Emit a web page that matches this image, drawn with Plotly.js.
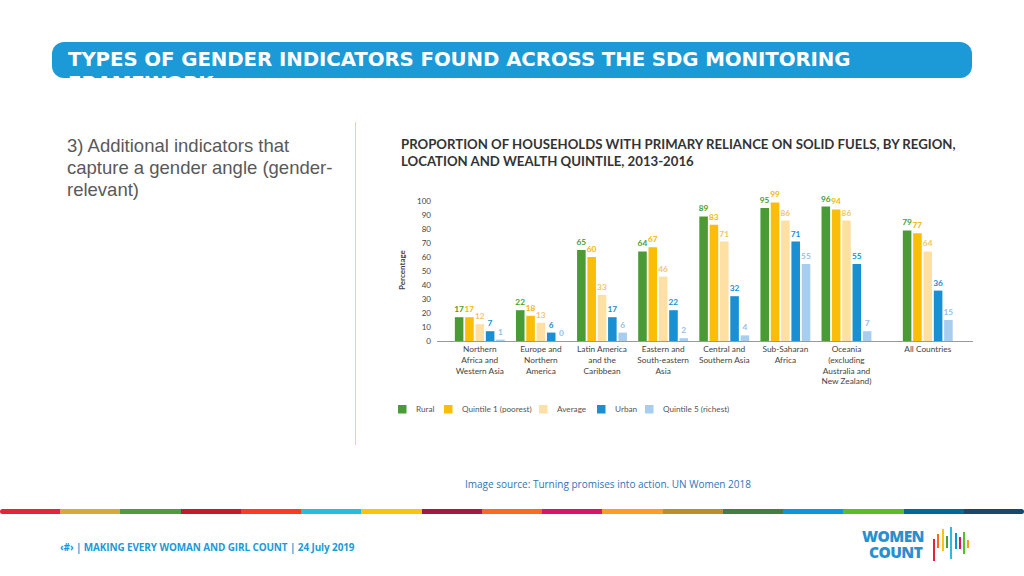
<!DOCTYPE html>
<html>
<head>
<meta charset="utf-8">
<script src="https://cdn.plot.ly/plotly-3.0.1.min.js"></script>
<style>
  html, body { margin:0; padding:0; background:#fff; width:1024px; height:576px; overflow:hidden; }
  #slide { position:relative; width:1024px; height:576px; font-family:"Open Sans", Lato, sans-serif; }
  #header { position:absolute; left:52px; top:42px; width:920px; height:36px; border-radius:12px; background:#1b9ad7; }
  #headerText { position:absolute; left:68px; top:48px; width:830px; color:#fff; font-family:"DejaVu Sans", sans-serif; font-weight:700; font-size:19.8px; line-height:24px; letter-spacing:-0.1px; }
  #leftText { position:absolute; left:67px; top:135px; width:282px; color:#595959; font-family:"Liberation Sans", Arial, sans-serif; font-size:18.5px; line-height:22px; }
  #divider { position:absolute; left:355px; top:122px; width:1px; height:323px; background:#b7dcef; }
  #source { position:absolute; left:465px; top:477px; color:#2e75b6; font-family:"Open Sans", sans-serif; font-size:10px; white-space:nowrap; }
  #strip { position:absolute; left:0; top:509px; width:1024px; height:5px; display:flex; border-radius:3px; overflow:hidden; }
  #strip div { flex:1; height:5px; }
  #footer { position:absolute; left:60px; top:540px; color:#1b9ad7; font-family:"Open Sans", sans-serif; font-weight:700; font-size:9.95px; white-space:nowrap; letter-spacing:-0.1px; }
  .logo { position:absolute; color:#2a8fcf; font-family:"Open Sans", sans-serif; font-weight:800; font-size:15.5px; line-height:14px; letter-spacing:-0.6px; white-space:nowrap; }
  #chart { position:absolute; left:0; top:0; width:1024px; height:576px; }
  .lb { position:absolute; width:2px; }
</style>
</head>
<body>
<div id="slide">
  <div id="header"></div>
  <div id="headerText">TYPES OF GENDER INDICATORS FOUND ACROSS THE SDG MONITORING FRAMEWORK</div>
  <div id="leftText">3) Additional indicators that capture a gender angle (gender-relevant)</div>
  <div id="divider"></div>
  <div id="source">Image source: Turning promises into action. UN Women 2018</div>
  <div id="strip"></div>
  <div id="footer">‹#› | MAKING EVERY WOMAN AND GIRL COUNT | 24 July 2019</div>
  <div class="logo" style="left:862px; top:529px;">WOMEN</div>
  <div class="logo" style="left:869px; top:545px;">COUNT</div>
  <div id="logoBars"></div>
  <div id="chart"></div>
</div>
<script>
// ---- data ----
const regions = [
  "Northern<br>Africa and<br>Western Asia",
  "Europe and<br>Northern<br>America",
  "Latin America<br>and the<br>Caribbean",
  "Eastern and<br>South-eastern<br>Asia",
  "Central and<br>Southern Asia",
  "Sub-Saharan<br>Africa",
  "Oceania<br>(excluding<br>Australia and<br>New Zealand)",
  "All Countries"
];
const seriesNames = ["Rural", "Quintile 1 (poorest)", "Average", "Urban", "Quintile 5 (richest)"];
const rural     = [17, 22, 65, 64, 89, 95, 96, 79];
const quintile1 = [17, 18, 60, 67, 83, 99, 94, 77];
const average   = [12, 13, 33, 46, 71, 86, 86, 64];
const urban     = [ 7,  6, 17, 22, 32, 71, 55, 36];
const quintile5 = [ 1,  0,  6,  2,  4, 55,  7, 15];
const yTicks = [0,10,20,30,40,50,60,70,80,90,100];

// ---- styles ----
const barColors  = ["#4a9b36", "#f9bd0a", "#fde0a2", "#1a8fd1", "#a7cdef"];
const textColors = ["#4a9b36", "#f5b800", "#f3c46a", "#1a8fd1", "#93c1ea"];
const legendPx   = [398, 444, 539, 597, 645];   // left pixel of each legend swatch
const sdgColors = ["#e5243b","#dda63a","#4c9f38","#c5192d","#ff3a21","#26bde2","#fcc30b","#a21942","#fd6925","#dd1367","#fd9d24","#bf8b2e","#3f7e44","#0a97d9","#56c02b","#00689d","#19486a"];

// plot area geometry (pixels)
const PL = 437, PR = 973, PT = 201, PB = 341;
const px2x = p => (p - PL) / (PR - PL);
const px2y = p => (PB - p) / (PB - PT);

// x positions: "All Countries" set slightly apart
const xPos = regions.map((r, i) => i === regions.length - 1 ? i + 0.33 : i);

const strip = document.getElementById('strip');
sdgColors.forEach(c => { const d = document.createElement('div'); d.style.background = c; strip.appendChild(d); });

// logo bars
const lbColors = ["#e5243b","#fd6925","#fcc30b","#4c9f38","#26bde2","#0a97d9","#dd1367","#56c02b","#fd9d24"];
const lbTop = [12, 7, 2, 9, 0, 6, 10, 5, 13];
const lbH   = [22, 14, 22, 12, 32, 16, 12, 22, 8];
const lb = document.getElementById('logoBars');
lbColors.forEach((c, i) => {
  const d = document.createElement('div'); d.className = 'lb';
  d.style.left = (933 + i * 4.3) + 'px'; d.style.top = (527 + lbTop[i]) + 'px';
  d.style.height = lbH[i] + 'px'; d.style.background = c; lb.appendChild(d);
});

const allSeries = [rural, quintile1, average, urban, quintile5];
const traces = allSeries.map((vals, k) => ({
  type: 'bar',
  name: seriesNames[k],
  x: xPos,
  y: vals,
  text: vals.map(String),
  textposition: 'outside',
  textfont: { family: 'Lato, sans-serif', size: 8.3, color: textColors[k], weight: 'bold' },
  constraintext: 'none',
  cliponaxis: false,
  marker: { color: barColors[k] },
  showlegend: false,
  hoverinfo: 'skip'
}));

// legend built from series names and colours
const shapes = [], annotations = [];
seriesNames.forEach((name, k) => {
  const x0 = legendPx[k];
  shapes.push({ type: 'rect', xref: 'paper', yref: 'paper', x0: px2x(x0), x1: px2x(x0 + 8.5),
                y0: px2y(413.5), y1: px2y(405), fillcolor: barColors[k], line: { width: 0 } });
  annotations.push({ xref: 'paper', yref: 'paper', x: px2x(x0 + 16), y: px2y(409), xanchor: 'left', yanchor: 'middle',
                     showarrow: false, text: name, font: { family: 'Lato, sans-serif', size: 8.2, color: '#555' } });
});
annotations.push(
  { xref: 'paper', yref: 'paper', x: px2x(399), y: px2y(134), xanchor: 'left', yanchor: 'top', align: 'left',
    showarrow: false,
    text: 'PROPORTION OF HOUSEHOLDS WITH PRIMARY RELIANCE ON SOLID FUELS, BY REGION,<br>LOCATION AND WEALTH QUINTILE, 2013-2016',
    font: { family: 'Lato, sans-serif', size: 13.2, color: '#333', weight: 'bold' } },
  { xref: 'paper', yref: 'paper', x: px2x(402), y: px2y(270), xanchor: 'center', yanchor: 'middle',
    showarrow: false, textangle: -90, text: 'Percentage',
    font: { family: 'Lato, sans-serif', size: 8, color: '#444', weight: 'bold' } }
);

const layout = {
  width: 1024, height: 576,
  margin: { l: PL, r: 1024 - PR, t: PT, b: 576 - PB },
  paper_bgcolor: 'rgba(0,0,0,0)', plot_bgcolor: 'rgba(0,0,0,0)',
  barmode: 'group', bargap: 0.155, bargroupgap: 0.17,
  font: { family: 'Lato, sans-serif', color: '#444' },
  showlegend: false,
  xaxis: { range: [-0.70, 8.07], tickmode: 'array', tickvals: xPos, ticktext: regions,
           showline: true, linecolor: '#9a9a9a', linewidth: 1, showgrid: false, zeroline: false,
           ticks: '', tickfont: { size: 8.3, color: '#444' }, fixedrange: true },
  yaxis: { range: [0, 100], tickmode: 'array', tickvals: yTicks, showgrid: false, zeroline: false,
           showline: false, ticks: '', ticklabelstandoff: 5, tickfont: { size: 8, color: '#444' }, fixedrange: true },
  shapes: shapes,
  annotations: annotations
};

Plotly.newPlot('chart', traces, layout, { displayModeBar: false, staticPlot: true });
</script>
</body>
</html>
